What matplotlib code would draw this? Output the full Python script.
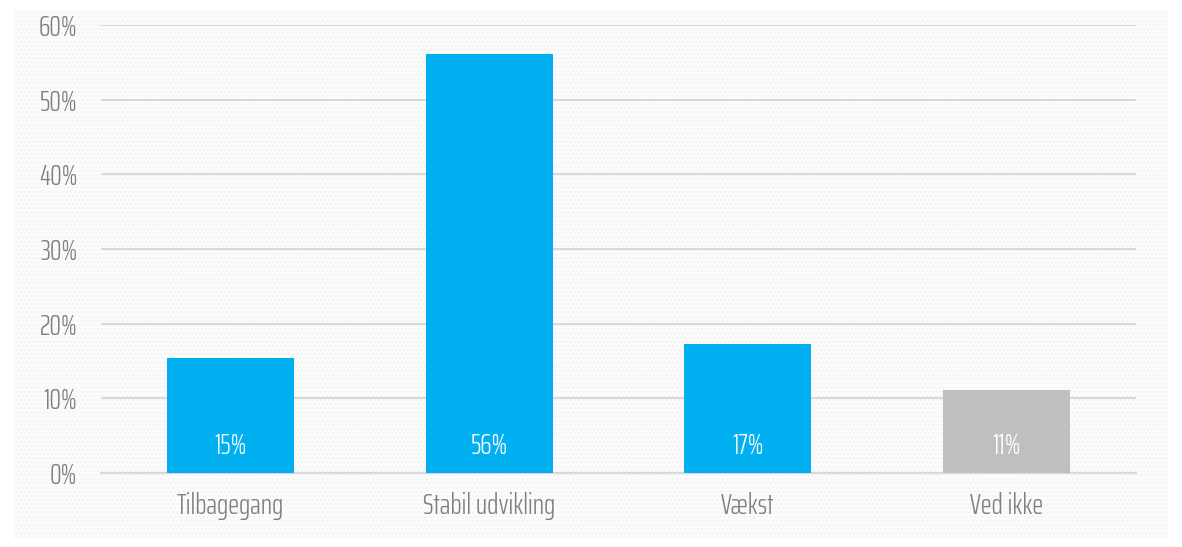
import matplotlib
matplotlib.use('Agg')
import matplotlib.pyplot as plt
from matplotlib.patches import Rectangle
from matplotlib.ticker import FuncFormatter

categories = ['Tilbagegang', 'Stabil udvikling', 'Vækst', 'Ved ikke']
values = [15.4, 56.1, 17.3, 11.1]
bar_colors = ['#00B0F0', '#00B0F0', '#00B0F0', '#BFBFBF']
yticks = [0, 10, 20, 30, 40, 50, 60]

plt.rcParams['font.family'] = ['Saira ExtraCondensed', 'DejaVu Sans']
plt.rcParams['font.weight'] = 300

fig = plt.figure(figsize=(11.82, 5.47), dpi=100)

# light dotted background panel
bg = Rectangle((14 / 1182, 9 / 547), 1154 / 1182, 528 / 547, transform=fig.transFigure,
               facecolor='#fcfcfc', edgecolor='#f3f3f3', hatch='....', linewidth=0, zorder=-10)
fig.patches.append(bg)

ax = fig.add_axes([101 / 1182, 74 / 547, 1035 / 1182, 448 / 547])
ax.set_zorder(1)
ax.patch.set_visible(False)

x = range(len(categories))
bars = ax.bar(x, values, width=0.49, color=bar_colors, zorder=3)

for b, v in zip(bars, values):
    ax.annotate(f'{round(v)}%', (b.get_x() + b.get_width() / 2, 0), xytext=(0, 27),
                textcoords='offset pixels', ha='center', va='center',
                color='white', fontsize=21, zorder=4)

ax.set_xlim(-0.5, 3.5)
ax.set_ylim(0, 60)
ax.set_yticks(yticks)
ax.yaxis.set_major_formatter(FuncFormatter(lambda v, p: f'{v:.0f}%'))
ax.grid(axis='y', color='#d9d9d9', linewidth=1.5, zorder=1)
ax.set_axisbelow(True)

ax.set_xticks(list(x))
ax.set_xticklabels(categories)
ax.tick_params(axis='both', length=0, colors='#7f7f7f', labelsize=21)
ax.tick_params(axis='x', pad=14)
ax.tick_params(axis='y', pad=17)

for s in ['top', 'right', 'left']:
    ax.spines[s].set_visible(False)
ax.spines['bottom'].set_color('#d9d9d9')
ax.spines['bottom'].set_linewidth(1.5)

plt.savefig('out.png', dpi=100)
plt.close()
